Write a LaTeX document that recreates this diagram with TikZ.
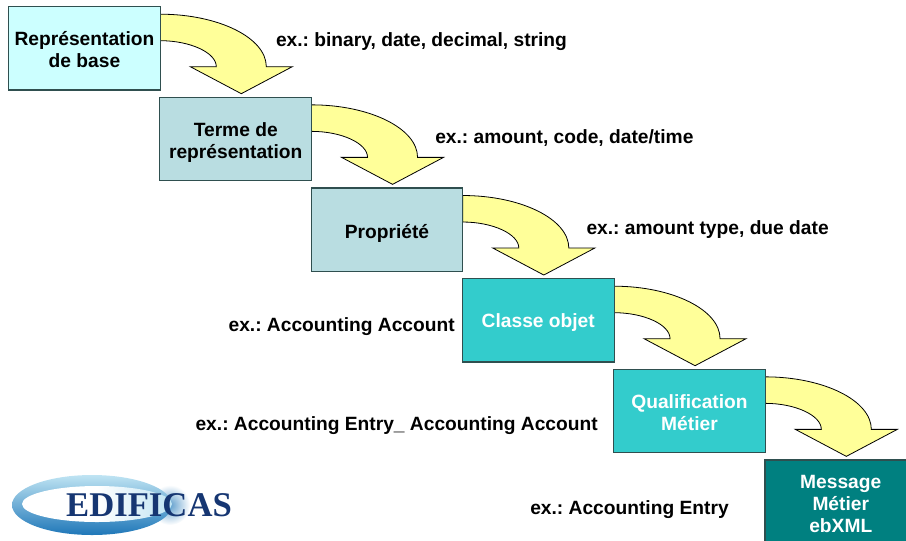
\documentclass[tikz,border=0pt]{standalone}
\usepackage{fontspec}
\setmainfont{Liberation Sans}
\newfontfamily\logofont{Liberation Serif}
\usetikzlibrary{backgrounds}

\definecolor{edge}{HTML}{2F4F4F}
\definecolor{pale}{HTML}{CCFFFF}
\definecolor{greyblue}{HTML}{B9DDE1}
\definecolor{turquoise}{HTML}{33CCCC}
\definecolor{deepteal}{HTML}{008080}
\definecolor{bent}{HTML}{FFFF99}
\definecolor{logoblue}{HTML}{163672}
\definecolor{ringblue}{HTML}{1F77B8}
\definecolor{ringpale}{HTML}{BFE4F3}

\tikzset{
  level/.style={draw=edge,line width=0.8pt,fill=#1,minimum width=113.7pt,minimum height=62.5pt,
    inner sep=0pt,outer sep=0pt,align=center,font=\fontsize{14.4}{16.5}\selectfont\bfseries},
  whitelevel/.style={level=#1,text=white},
  exlabel/.style={inner sep=0pt,font=\fontsize{14.4}{16.5}\selectfont\bfseries},
  bentshape/.style={draw=black,line width=0.6pt,fill=bent,line join=miter}
}

\newcommand{\lift}[1]{\rule{0pt}{#1}}
\newcommand{\bentarrow}[1]{
  \begin{pgfonlayer}{background}
    \draw[bentshape,shift={(#1.north east)}] (0,7.5) .. controls (58,7.5) and (106,31) .. (106,60)
      -- (132,60) -- (81,87) -- (30,60) -- (56,60) .. controls (56,46) and (30,34) .. (0,34) -- cycle;
  \end{pgfonlayer}
}

\begin{document}
\frenchspacing
\begin{tikzpicture}[x=0.75pt,y=-0.75pt,node distance=113.44pt]
      \useasboundingbox (0,0) rectangle (906,540);
      \clip (0,0) rectangle (906,540);

      \node[level=pale] (1) at (84.5,48.35) {\lift{12.5pt}Représentation\\de base};
      \node[level=greyblue,right of=1,yshift=-68pt] (2) {\lift{15pt}Terme de\\représentation};
      \node[level=greyblue,right of=2,yshift=-68pt] (3) {\lift{16pt}Propriété};
      \node[whitelevel=turquoise,right of=3,yshift=-68pt] (4) {\lift{14pt}Classe objet};
      \node[whitelevel=turquoise,right of=4,yshift=-68pt] (5) {\lift{12.5pt}Qualification\\Métier};
      \node[whitelevel=deepteal,right of=5,yshift=-68pt] (6) {\lift{13.5pt}Message\\Métier\\ebXML};

      \bentarrow{1}
      \bentarrow{2}
      \bentarrow{3}
      \bentarrow{4}
      \bentarrow{5}

      \node[right of=1,xshift=30pt,yshift=5.2pt,exlabel,anchor=west] (7) {ex.: binary, date, decimal, string};
      \node[right of=2,xshift=36pt,yshift=0.9pt,exlabel,anchor=west] (8) {ex.: amount, code, date/time};
      \node[right of=3,xshift=36pt,yshift=-0.2pt,exlabel,anchor=west] (9) {ex.: amount type, due date};
      \node[left of=4,xshift=51pt,yshift=-4.9pt,exlabel,anchor=east] (10) {ex.: Accounting Account};
      \node[left of=5,xshift=44.8pt,yshift=-11.2pt,exlabel,anchor=east] (11) {ex.: Accounting Entry\_ Accounting Account};
      \node[left of=6,xshift=29.6pt,yshift=-5.6pt,exlabel,anchor=east] (12) {ex.: Accounting Entry};

      %% logo
      \shade[inner color=ringblue!70,outer color=white] (170,505) circle (20);
      \shade[top color=ringpale,bottom color=ringblue] (92,505) ellipse (80 and 30);
      \shade[left color=white,right color=ringpale,middle color=white] (97,504) ellipse (75 and 18);
      \node[inner sep=0pt,text=logoblue,font=\fontsize{26}{26}\logofont\bfseries] (13) at (149,505) {EDIFICAS};
    \end{tikzpicture}
\end{document}
